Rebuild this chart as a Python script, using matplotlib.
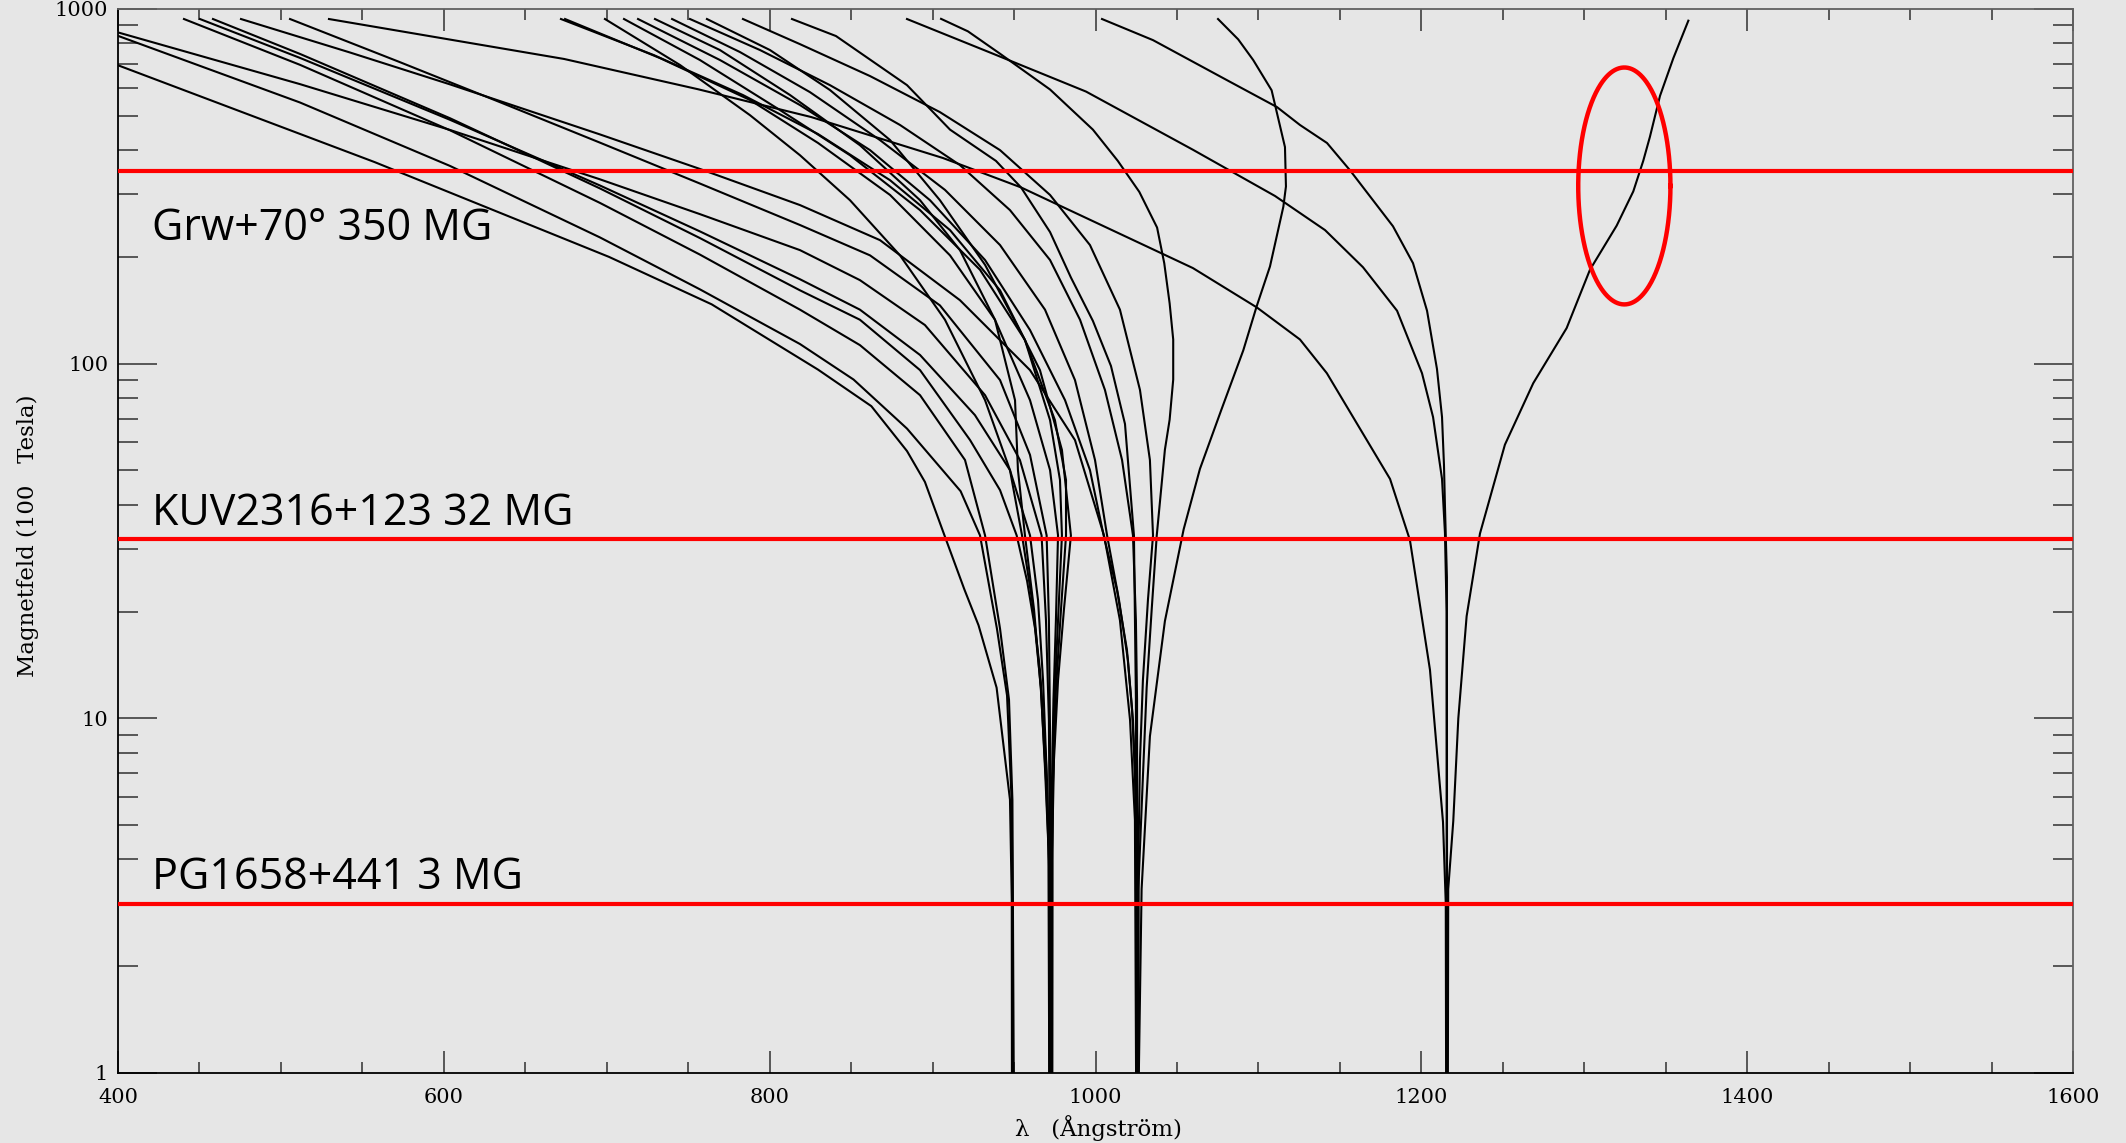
import numpy as np
import matplotlib
matplotlib.use("Agg")
import matplotlib.pyplot as plt
from matplotlib.ticker import FixedLocator, FixedFormatter, NullFormatter

# ---------------------------------------------------------------------------
# Zeeman-shifted hydrogen Lyman components: wavelength (Angstrom) vs field (MG)
# ---------------------------------------------------------------------------

# Lyman alpha (1215.7 A)
lya_1_wl = [529.5, 673.8, 756.0, 825.4, 906.4, 954.3, 1059.8, 1099.1, 1125.5, 1142.0, 1180.8, 1193.0, 1205.3, 1213.3, 1215.0, 1215.2]
lya_1_b = [937, 723, 594, 496, 380, 314, 186, 144, 117, 94, 47.3, 31.8, 13.7, 5.1, 3.0, 1.0]
lya_2_wl = [884.3, 937.1, 994.2, 1059.8, 1110.2, 1140.9, 1164.2, 1185.1, 1200.4, 1207.2, 1212.7, 1214.5, 1215.5, 1215.6]
lya_2_b = [937, 748, 585, 401, 297, 238, 187, 141, 94, 70.7, 47.3, 33.3, 20.0, 1.0]
lya_3_wl = [1004.0, 1035.3, 1080.7, 1111.4, 1125.5, 1142.1, 1156.2, 1182.6, 1194.9, 1203.5, 1209.6, 1212.7, 1213.9, 1214.5, 1215.7, 1215.8]
lya_3_b = [937, 817, 630, 529, 471, 419, 351, 244, 192, 141, 96.6, 70.7, 51.8, 39.7, 25.0, 1.0]
lya_4_wl = [1216.3, 1216.5, 1219.6, 1222.7, 1227.8, 1236.0, 1251.3, 1268.7, 1289.2, 1303.5, 1319.9, 1330.1, 1336.2, 1340.3, 1346.5, 1354.7, 1363.9]
lya_4_b = [1.0, 3.3, 5.13, 10.0, 19.4, 33.2, 59.1, 88.1, 126, 184, 245, 306, 373, 436, 569, 727, 927]

# Lyman beta (1025.7 A)
lyb_1_wl = [1075.2, 1087.6, 1096.8, 1108.1, 1116.3, 1116.9, 1115.3, 1107.1, 1098.9, 1090.7, 1077.0, 1064.1, 1054.1, 1042.6, 1033.4, 1028.3, 1026.6]
lyb_1_b = [937, 821, 718, 590, 408, 316, 277, 188, 145, 109, 73.6, 50.5, 34.1, 18.8, 8.9, 3.3, 1.0]
lyb_2_wl = [905.2, 921.7, 941.4, 972.1, 998.4, 1013.7, 1026.9, 1037.8, 1042.2, 1045.5, 1047.7, 1047.7, 1045.5, 1042.6, 1037.6, 1034.5, 1031.4, 1029.3, 1027.3, 1026.3, 1026.2]
lyb_2_b = [938, 865, 748, 593, 457, 373, 305, 242, 192, 148, 117, 90.2, 69.5, 57.2, 32.8, 20.3, 12.2, 7.2, 4.3, 3.3, 1.0]
lyb_3_wl = [475.5, 542.4, 603.8, 695.8, 757.2, 818.6, 867.7, 916.8, 959.8, 987.4, 1005.2, 1015.0, 1021.2, 1024.2, 1024.9]
lyb_3_b = [937, 754, 613, 443, 354, 280, 223, 151, 95.9, 60.9, 32.8, 18.9, 9.89, 5.17, 1.0]
lyb_4_wl = [719.2, 769.5, 818.6, 861.6, 898.4, 932.2, 959.8, 981.3, 996.6, 1005.0, 1013.2, 1019.3, 1022.4, 1024.2, 1025.0, 1025.1]
lyb_4_b = [937, 718, 536, 400, 289, 196, 124.4, 78.9, 50.1, 32.8, 23.0, 15.6, 10.6, 7.15, 4.25, 1.0]
lyb_5_wl = [740.1, 781.8, 824.7, 867.7, 907.6, 941.4, 969.0, 987.4, 999.7, 1007.1, 1014.4, 1019.9, 1023.0, 1024.8, 1025.0]
lyb_5_b = [937, 756, 583, 427, 309, 216, 142, 89.9, 53.5, 32.8, 21.6, 14.6, 9.89, 5.89, 1.0]
lyb_6_wl = [751.1, 794.1, 837.0, 880.0, 916.8, 947.5, 972.1, 990.5, 1005.8, 1016.3, 1023.0, 1024.8, 1025.5, 1025.6]
lyb_6_b = [937, 766, 610, 471, 363, 271, 196, 133, 84.3, 53.5, 32.8, 18.9, 11.3, 1.0]
lyb_7_wl = [783.6, 818.6, 861.6, 904.5, 941.4, 972.1, 996.6, 1015.0, 1027.3, 1033.4, 1035.3, 1032.2, 1029.1, 1027.3, 1026.4, 1026.3]
lyb_7_b = [937, 796, 647, 512, 400, 299, 216, 142, 84.3, 53.5, 32.8, 21.6, 12.8, 7.63, 4.25, 1.0]
lyb_8_wl = [813.7, 840.7, 884.3, 910.7, 938.9, 954.3, 972.1, 984.9, 998.4, 1009.5, 1018.1, 1023.6, 1024.8, 1025.4]
lyb_8_b = [937, 839, 610, 457, 373, 314, 235, 175, 132, 98.5, 67.6, 32.8, 11.3, 1.0]

# Lyman gamma (972.5 A)
lyg_1_wl = [400.0, 511.7, 603.8, 695.8, 757.2, 818.6, 855.4, 895.3, 932.2, 953.6, 966.9, 969.6, 971.4, 971.9, 972.0]
lyg_1_b = [859, 614, 456, 331, 264, 209, 172, 128.5, 81.5, 53.5, 32.8, 18.9, 9.89, 4.25, 1.0]
lyg_2_wl = [450.3, 511.7, 603.8, 695.8, 757.2, 818.6, 855.4, 892.3, 926.0, 947.5, 959.8, 964.7, 967.8, 970.2, 971.7, 971.8]
lyg_2_b = [937, 728, 487, 318, 236, 173, 142, 105.8, 71.6, 50.1, 32.8, 21.6, 12.8, 6.70, 3.50, 1.0]
lyg_3_wl = [458.3, 511.7, 603.8, 695.8, 757.2, 818.6, 855.4, 892.3, 923.0, 941.4, 951.6, 958.0, 962.9, 966.5, 969.0, 971.1, 971.6]
lyg_3_b = [937, 747, 492, 312, 226, 161, 133, 95.9, 60.9, 44.0, 32.8, 24.4, 17.9, 12.2, 7.24, 4.34, 1.0]
lyg_4_wl = [505.6, 573.1, 634.5, 695.8, 757.2, 818.6, 861.6, 904.5, 941.4, 959.8, 970.0, 971.4, 972.2, 972.3]
lyg_4_b = [937, 708, 546, 420, 322, 246, 202, 146, 89.9, 55.3, 32.8, 18.9, 8.14, 1.0]
lyg_5_wl = [671.9, 729.0, 783.6, 829.7, 873.9, 910.7, 941.4, 965.9, 979.4, 984.9, 980.6, 977.0, 974.5, 973.4, 973.3]
lyg_5_b = [937, 741, 572, 444, 329, 238, 161, 95.9, 57.1, 32.8, 20.2, 12.8, 7.63, 4.25, 1.0]
lyg_6_wl = [674.4, 732.7, 787.9, 829.7, 873.9, 910.7, 938.3, 959.8, 972.1, 977.0, 975.7, 974.2, 973.3, 973.0, 972.9]
lyg_6_b = [937, 727, 554, 419, 299, 202, 133, 78.9, 50.1, 32.8, 18.9, 11.3, 6.70, 3.99, 1.0]
lyg_7_wl = [698.9, 745.0, 787.9, 818.6, 849.3, 880.0, 907.6, 932.2, 947.5, 954.9, 961.0, 965.9, 969.6, 971.5, 971.9]
lyg_7_b = [937, 695, 502, 387, 289, 202, 133, 78.9, 50.1, 32.8, 21.6, 13.7, 7.63, 4.25, 1.0]
lyg_8_wl = [710.6, 757.2, 806.3, 849.3, 892.3, 929.1, 956.7, 975.1, 981.9, 981.9, 978.8, 975.7, 973.9, 973.2, 973.1]
lyg_8_b = [937, 718, 519, 387, 271, 184, 116.6, 69.3, 47.0, 32.8, 20.2, 12.0, 6.70, 3.74, 1.0]
lyg_9_wl = [729.6, 769.5, 812.5, 855.4, 892.3, 916.8, 938.3, 950.6, 952.4, 956.7, 962.3, 966.5, 969.6, 971.7, 972.1]
lyg_9_b = [937, 766, 572, 413, 289, 209, 133, 78.9, 50.1, 32.8, 20.2, 12.0, 6.70, 3.74, 1.0]
lyg_10_wl = [761.5, 800.2, 837.0, 873.9, 904.5, 932.2, 956.7, 972.1, 978.2, 979.4, 977.0, 974.5, 973.6, 973.5]
lyg_10_b = [937, 766, 591, 427, 289, 190, 116.6, 69.3, 47.0, 32.8, 18.9, 10.6, 5.17, 1.0]

# Lyman delta (949.7 A)
lyd_1_wl = [400.0, 557.6, 701.4, 764.4, 829.7, 862.4, 884.3, 895.3, 907.4, 919.5, 928.2, 939.3, 947.5, 948.6, 948.7]
lyd_1_b = [694, 370, 200, 147, 96.2, 75.9, 56.7, 46.4, 32.7, 23.1, 18.3, 12.2, 5.9, 3.1, 1.0]
lyd_2_wl = [400.0, 511.7, 603.8, 695.8, 757.2, 818.6, 851.5, 884.3, 917.2, 929.1, 939.5, 945.7, 948.5, 949.1, 949.2]
lyd_2_b = [840, 545, 361, 227, 162, 113.6, 90.2, 65.6, 43.7, 32.8, 17.9, 11.6, 5.89, 3.07, 1.0]
lyd_3_wl = [440.5, 511.7, 603.8, 695.8, 757.2, 818.6, 855.4, 892.3, 919.9, 932.2, 941.4, 946.9, 949.0, 949.8]
lyd_3_b = [937, 696, 455, 284, 203, 142, 112.8, 81.5, 53.5, 32.8, 17.9, 11.3, 5.89, 1.0]

# White dwarfs with their field strengths (MG)
star_names = ["Grw+70° 350 MG", "KUV2316+123 32 MG", "PG1658+441 3 MG"]
star_fields = [350, 32, 3]

# Marked region around the alpha component near 1320 A
ring_center_wl = 1324.6
ring_center_b = 317.0
ring_half_wl = 28.3
ring_half_dex = 0.334

x_ticks = [400, 600, 800, 1000, 1200, 1400, 1600]
y_ticks = [1, 10, 100, 1000]
y_tick_labels = ["1", "10", "100", "1000"]

curves = [
    (lya_1_wl, lya_1_b), (lya_2_wl, lya_2_b), (lya_3_wl, lya_3_b), (lya_4_wl, lya_4_b),
    (lyb_1_wl, lyb_1_b), (lyb_2_wl, lyb_2_b), (lyb_3_wl, lyb_3_b), (lyb_4_wl, lyb_4_b),
    (lyb_5_wl, lyb_5_b), (lyb_6_wl, lyb_6_b), (lyb_7_wl, lyb_7_b), (lyb_8_wl, lyb_8_b),
    (lyg_1_wl, lyg_1_b), (lyg_2_wl, lyg_2_b), (lyg_3_wl, lyg_3_b), (lyg_4_wl, lyg_4_b),
    (lyg_5_wl, lyg_5_b), (lyg_6_wl, lyg_6_b), (lyg_7_wl, lyg_7_b), (lyg_8_wl, lyg_8_b),
    (lyg_9_wl, lyg_9_b), (lyg_10_wl, lyg_10_b),
    (lyd_1_wl, lyd_1_b), (lyd_2_wl, lyd_2_b), (lyd_3_wl, lyd_3_b),
]

BG = "#e6e6e6"
W, H = 2126, 1143
fig = plt.figure(figsize=(W / 100, H / 100), dpi=100, facecolor=BG)
ax = fig.add_axes([118 / W, 70 / H, 1955 / W, 1064 / H], facecolor=BG)

for wl, b in curves:
    ax.plot(wl, b, color="black", lw=1.5, zorder=2)

for name, field in zip(star_names, star_fields):
    ax.axhline(field, color="#ff0000", lw=3.0, zorder=4)

t = np.linspace(0, 2 * np.pi, 400)
ax.plot(ring_center_wl + ring_half_wl * np.cos(t),
        ring_center_b * 10 ** (ring_half_dex * np.sin(t)),
        color="#ff0000", lw=3.2, zorder=5)

ax.set_yscale("log")
ax.set_xlim(400, 1600)
ax.set_ylim(1, 1000)

ax.xaxis.set_major_locator(FixedLocator(x_ticks))
ax.xaxis.set_minor_locator(FixedLocator(np.arange(400, 1601, 50)))
ax.yaxis.set_major_locator(FixedLocator(y_ticks))
ax.yaxis.set_major_formatter(FixedFormatter(y_tick_labels))
minor_y = [m * 10 ** e for e in range(0, 3) for m in range(2, 10)]
ax.yaxis.set_minor_locator(FixedLocator(minor_y))
ax.yaxis.set_minor_formatter(NullFormatter())

serif = "DejaVu Serif"
ax.tick_params(axis="both", which="both", direction="in", top=True, right=True,
               color="#303030", width=1.1)
ax.tick_params(axis="x", which="major", length=16, pad=11, labelsize=15)
ax.tick_params(axis="x", which="minor", length=8)
ax.tick_params(axis="y", which="major", length=28, pad=7, labelsize=15)
ax.tick_params(axis="y", which="minor", length=14.5)
for lab in ax.get_xticklabels() + ax.get_yticklabels():
    lab.set_family(serif)

for side in ("left", "bottom"):
    ax.spines[side].set_color("black")
    ax.spines[side].set_linewidth(1.3)
for side in ("top", "right"):
    ax.spines[side].set_color("#606060")
    ax.spines[side].set_linewidth(1.3)

fig.text(28 / W, 1 - 536 / H, "Magnetfeld (100   Tesla)", rotation=90,
         ha="center", va="center", family=serif, fontsize=16.5)
fig.text(1098 / W, 1 - 1128 / H, "λ   (Ångström)", ha="center", va="center",
         family=serif, fontsize=16.5)

label_y = [0.783, 0.515, 0.1725]
for name, yy in zip(star_names, label_y):
    ax.text(0.0175, yy, name, transform=ax.transAxes, family="Open Sans",
            fontsize=31, color="black", va="baseline", ha="left", zorder=6)

fig.savefig("out.png", dpi=100, facecolor=BG)
